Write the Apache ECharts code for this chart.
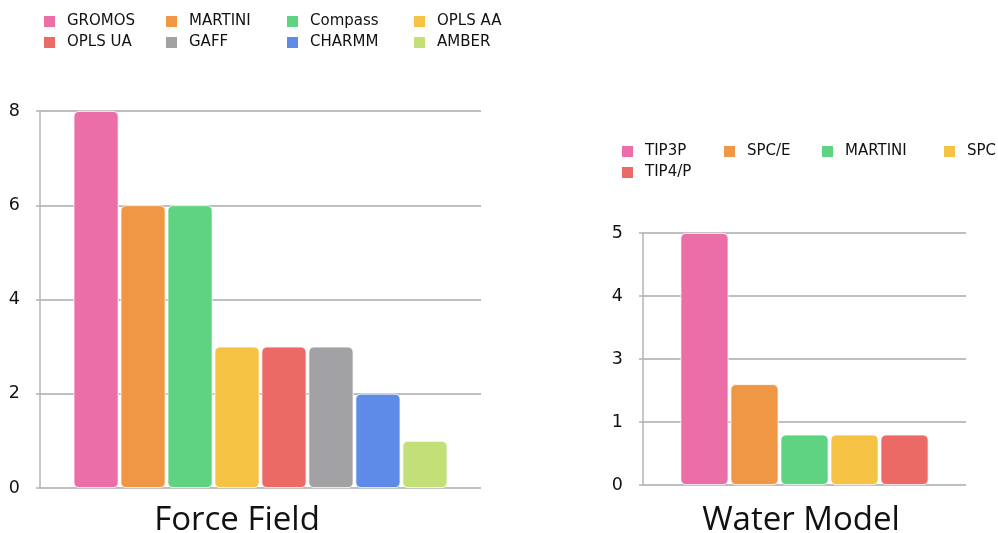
<!DOCTYPE html>
<html>
<head>
<meta charset="utf-8">
<script src="https://cdn.jsdelivr.net/npm/echarts@6/dist/echarts.min.js"></script>
<style>html,body{margin:0;padding:0;background:#fff}#c{width:998px;height:533px}</style>
</head>
<body>
<div id="c"></div>
<script>
// Left chart: Force Field
const ffNames = ['GROMOS','MARTINI','Compass','OPLS AA','OPLS UA','GAFF','CHARMM','AMBER'];
const ffValues = [8,6,6,3,3,3,2,1];
const ffColors = ['#EC6EA7','#F09746','#5FD381','#F5C244','#EC6A66','#A2A2A5','#5E8BE8','#C2DF78'];
// Right chart: Water Model
const wmNames = ['TIP3P','SPC/E','MARTINI ','SPC','TIP4/P'];
const wmValues = [5,2,1,1,1];
const wmColors = ['#EC6EA7','#F09746','#5FD381','#F5C244','#EC6A66'];
const titles = ['Force Field','Water Model'];

const font = 'DejaVu Sans';
// legend item positions (layout only)
const ffLegendPos = [[42,14],[164,14],[285,14],[412,14],[42,35],[164,35],[285,35],[412,35]];
const wmLegendPos = [[620,144],[722,144],[820,144],[942,144],[620,165]];

const legends = [];
ffNames.forEach((n,i)=>legends.push({data:[n],left:ffLegendPos[i][0],top:ffLegendPos[i][1]}));
wmNames.forEach((n,i)=>legends.push({data:[n],left:wmLegendPos[i][0],top:wmLegendPos[i][1]}));
legends.forEach(l=>Object.assign(l,{itemWidth:13,itemHeight:13,itemGap:0,padding:0,selectedMode:false,
  icon:'rect',textStyle:{fontFamily:font,fontSize:15,color:'#111',padding:[0,0,0,6]}}));

const series = [];
ffNames.forEach((n,i)=>series.push({type:'bar',name:n,xAxisIndex:0,yAxisIndex:0,data:[ffValues[i]],
  barWidth:45,barGap:'4.4%',itemStyle:{color:ffColors[i],borderRadius:5,borderColor:'#fff',borderWidth:0.8},animation:false}));
wmNames.forEach((n,i)=>series.push({type:'bar',name:n,xAxisIndex:1,yAxisIndex:1,data:[wmValues[i]],
  barWidth:48,barGap:'4.2%',itemStyle:{color:wmColors[i],borderRadius:5,borderColor:'#fff',borderWidth:0.8},animation:false}));

const yCommon = {type:'value',min:0,
  axisLine:{show:true,lineStyle:{color:'#b4b4b4',width:1.5}},
  axisTick:{show:true,length:4,lineStyle:{color:'#b4b4b4',width:1.5}},
  splitLine:{show:true,lineStyle:{color:'#aaaaaa',width:1.5}},
  axisLabel:{fontFamily:font,fontSize:17.5,color:'#111',margin:20}};

const option = {
  animation:false,
  title: titles.map((t,i)=>({text:t,left:i===0?232:796,top:499,textAlign:'center',
    textStyle:{fontFamily:'Open Sans',fontSize:33,fontWeight:'normal',color:'#111'}})),
  legend: legends,
  grid:[{left:40,right:517,top:111,bottom:45},{left:643,right:32,top:233,bottom:48}],
  xAxis:[{type:'category',gridIndex:0,data:['FF'],show:false},{type:'category',gridIndex:1,data:['WM'],show:false}],
  yAxis:[Object.assign({},yCommon,{gridIndex:0,max:8,interval:2}),
         Object.assign({},yCommon,{gridIndex:1,max:5,interval:1.25,axisLabel:Object.assign({},yCommon.axisLabel,{formatter:v=>String(Math.round(v))})})],
  series: series
};
const chart = echarts.init(document.getElementById('c'));
chart.setOption(option);
</script>
</body>
</html>
